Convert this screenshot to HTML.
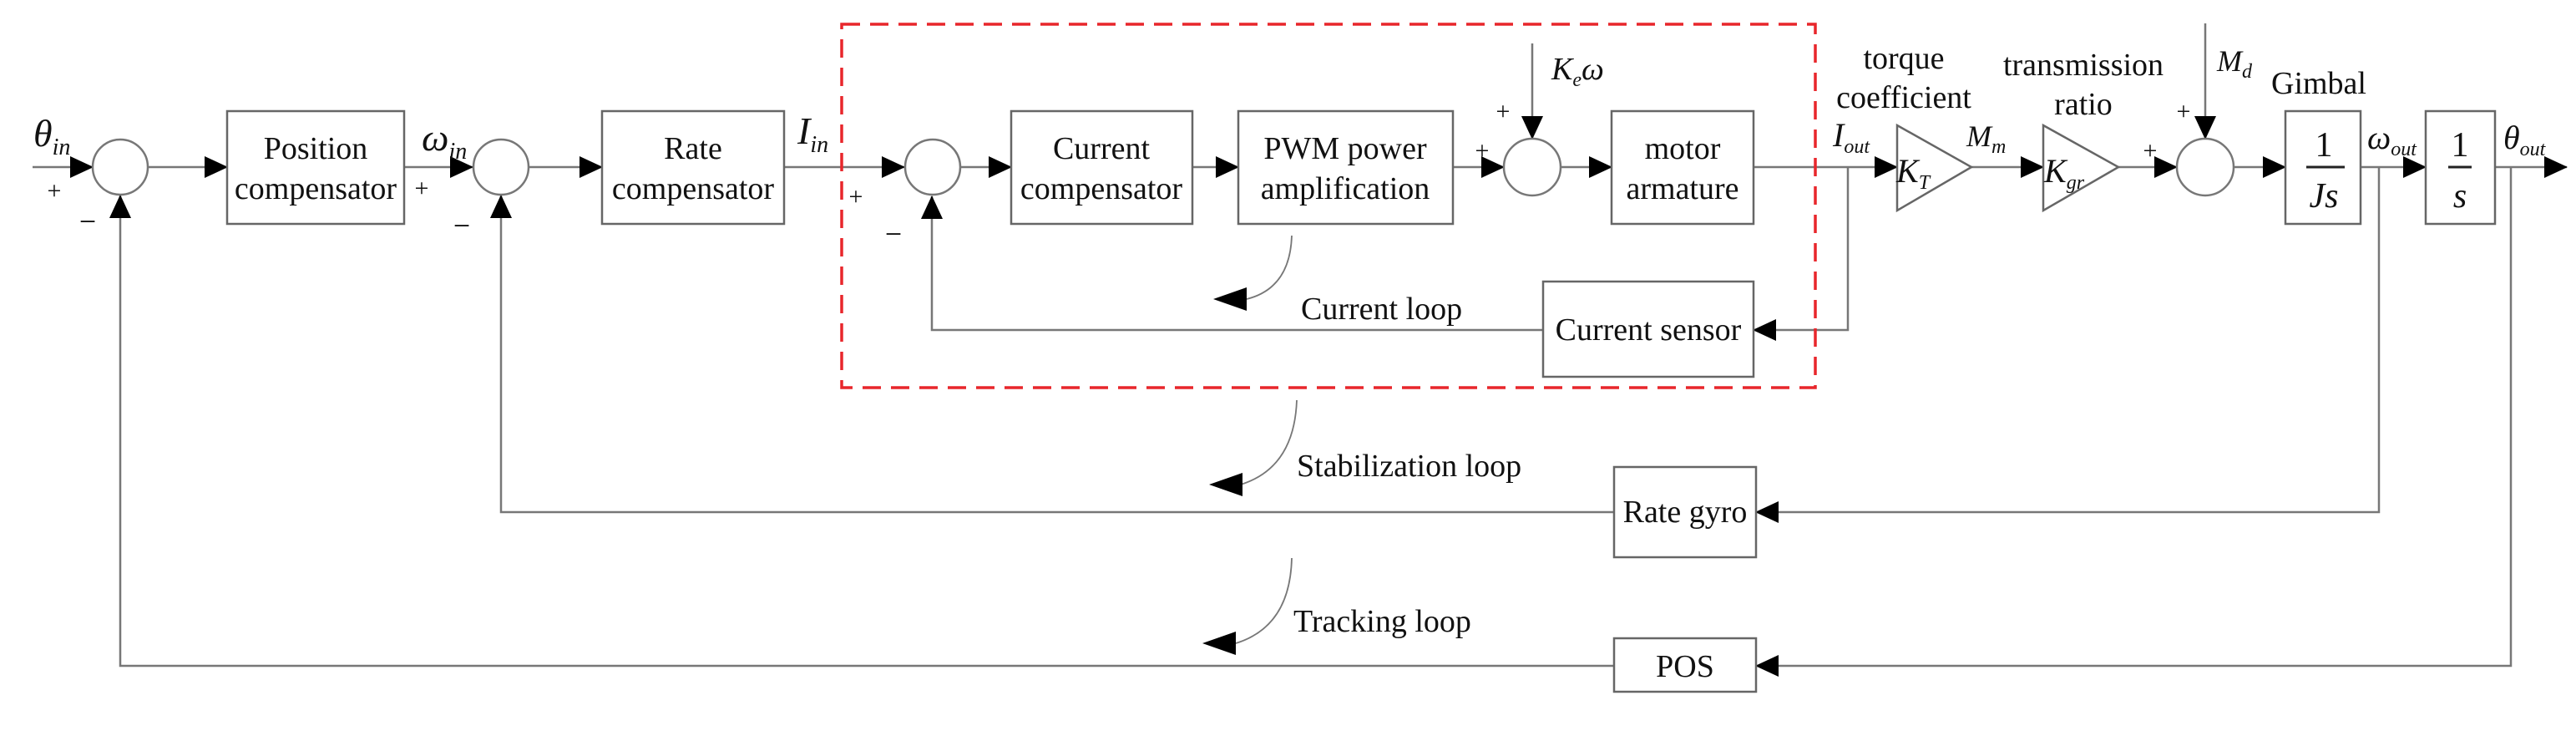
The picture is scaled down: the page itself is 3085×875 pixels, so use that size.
<!DOCTYPE html>
<html><head><meta charset="utf-8"><style>
html,body{margin:0;padding:0;background:#fff;}
svg{display:block;}
text{font-family:"Liberation Serif",serif;fill:#111;}
.b{font-size:38px;}
.m{font-style:italic;}
</style></head><body>
<svg width="3085" height="875" viewBox="0 0 3085 875" xmlns="http://www.w3.org/2000/svg">
<defs>
<marker id="a" markerWidth="28" markerHeight="26" refX="27" refY="13" orient="auto" markerUnits="userSpaceOnUse">
<path d="M0,0 L28,13 L0,26 z" fill="#000"/></marker>
</defs>
<g stroke="#777" stroke-width="2.5" fill="none">
<line x1="39" y1="200" x2="111" y2="200" marker-end="url(#a)"/>
<line x1="177" y1="200" x2="272" y2="200" marker-end="url(#a)"/>
<line x1="484" y1="200" x2="566" y2="200" marker-end="url(#a)"/>
<line x1="633" y1="200" x2="721" y2="200" marker-end="url(#a)"/>
<line x1="939" y1="200" x2="1083" y2="200" marker-end="url(#a)"/>
<line x1="1150" y1="200" x2="1211" y2="200" marker-end="url(#a)"/>
<line x1="1428" y1="200" x2="1483" y2="200" marker-end="url(#a)"/>
<line x1="1740" y1="200" x2="1801" y2="200" marker-end="url(#a)"/>
<line x1="1869" y1="200" x2="1930" y2="200" marker-end="url(#a)"/>
<line x1="2100" y1="200" x2="2272" y2="200" marker-end="url(#a)"/>
<line x1="2361" y1="200" x2="2447" y2="200" marker-end="url(#a)"/>
<line x1="2537" y1="200" x2="2607" y2="200" marker-end="url(#a)"/>
<line x1="2675" y1="200" x2="2737" y2="200" marker-end="url(#a)"/>
<line x1="2827" y1="200" x2="2905" y2="200" marker-end="url(#a)"/>
<line x1="2988" y1="200" x2="3074" y2="200" marker-end="url(#a)"/>
<line x1="1835" y1="52" x2="1835" y2="166" marker-end="url(#a)"/>
<line x1="2641" y1="28" x2="2641" y2="166" marker-end="url(#a)"/>
<polyline points="2213,200 2213,395 2100,395" marker-end="url(#a)"/>
<polyline points="1848,395 1116,395 1116,235" marker-end="url(#a)"/>
<polyline points="2849,200 2849,613 2103,613" marker-end="url(#a)"/>
<polyline points="1933,613 600,613 600,234" marker-end="url(#a)"/>
<polyline points="3007,200 3007,797 2103,797" marker-end="url(#a)"/>
<polyline points="1933,797 144,797 144,234" marker-end="url(#a)"/>
<path d="M1547,282 Q1545,345 1493,358" stroke-width="1.8"/>
<path d="M1553,479 Q1550,560 1486,580" stroke-width="1.8"/>
<path d="M1547,668 Q1545,750 1480,770" stroke-width="1.8"/>
</g>
<g fill="#000">
<path d="M1453,358 L1493,344 L1493,372 z"/>
<path d="M1448,580 L1488,566 L1488,594 z"/>
<path d="M1440,770 L1480,756 L1480,784 z"/>
</g>
<g stroke="#777" stroke-width="2.5" fill="#fff">
<circle cx="144" cy="200" r="33"/>
<circle cx="600" cy="200" r="33"/>
<circle cx="1117" cy="200" r="33"/>
<circle cx="1835" cy="200" r="34"/>
<circle cx="2641" cy="200" r="34"/>
</g>
<g stroke="#666" stroke-width="2.5" fill="#fff">
<rect x="272" y="133" width="212" height="135"/>
<rect x="721" y="133" width="218" height="135"/>
<rect x="1211" y="133" width="217" height="135"/>
<rect x="1483" y="133" width="257" height="135"/>
<rect x="1930" y="133" width="170" height="135"/>
<rect x="1848" y="337" width="252" height="114"/>
<rect x="2737" y="133" width="90" height="135"/>
<rect x="2905" y="133" width="83" height="135"/>
<rect x="1933" y="559" width="170" height="108"/>
<rect x="1933" y="764" width="170" height="64"/>
<polygon points="2272,150 2361,200 2272,252"/>
<polygon points="2447,150 2537,200 2447,252"/>
</g>
<rect x="1008" y="29" width="1166" height="435" fill="none" stroke="#e8262b" stroke-width="3.5" stroke-dasharray="22,12"/>
<line x1="2762" y1="200" x2="2808" y2="200" stroke="#222" stroke-width="3"/>
<line x1="2932" y1="200" x2="2960" y2="200" stroke="#222" stroke-width="3"/>
<g class="b" text-anchor="middle">
<text x="378" y="190">Position</text><text x="378" y="238">compensator</text>
<text x="830" y="190">Rate</text><text x="830" y="238">compensator</text>
<text x="1319" y="190">Current</text><text x="1319" y="238">compensator</text>
<text x="1611" y="190">PWM power</text><text x="1611" y="238">amplification</text>
<text x="2015" y="190">motor</text><text x="2015" y="238">armature</text>
<text x="1974" y="407">Current sensor</text>
<text x="2018" y="625">Rate gyro</text>
<text x="2018" y="810">POS</text>
<text x="2280" y="82">torque</text><text x="2280" y="129">coefficient</text>
<text x="2495" y="90">transmission</text><text x="2495" y="137">ratio</text>
<text x="2777" y="112">Gimbal</text>
<text x="2783" y="187" style="font-size:42px">1</text>
<text x="2783" y="248" class="m" style="font-size:42px">Js</text>
<text x="2946" y="187" style="font-size:42px">1</text>
<text x="2946" y="248" class="m" style="font-size:42px">s</text>
</g>
<g class="b">
<text x="1558" y="382">Current loop</text>
<text x="1553" y="570">Stabilization loop</text>
<text x="1549" y="756">Tracking loop</text>
</g>
<g class="m">
<text x="40" y="175" style="font-size:46px">θ<tspan dy="10" font-size="28">in</tspan></text>
<text x="505" y="180" style="font-size:46px">ω<tspan dy="10" font-size="28">in</tspan></text>
<text x="955" y="172" style="font-size:46px">I<tspan dy="10" font-size="28">in</tspan></text>
<text x="1858" y="95" style="font-size:38px">K<tspan dy="8" font-size="24">e</tspan><tspan dy="-8">ω</tspan></text>
<text x="2195" y="175" style="font-size:40px">I<tspan dy="8" font-size="24">out</tspan></text>
<text x="2271" y="218" style="font-size:40px">K<tspan dy="8" font-size="24">T</tspan></text>
<text x="2355" y="175" style="font-size:36px">M<tspan dy="8" font-size="24">m</tspan></text>
<text x="2448" y="218" style="font-size:40px">K<tspan dy="8" font-size="24">gr</tspan></text>
<text x="2655" y="85" style="font-size:36px">M<tspan dy="8" font-size="24">d</tspan></text>
<text x="2835" y="178" style="font-size:40px">ω<tspan dy="8" font-size="24">out</tspan></text>
<text x="2998" y="178" style="font-size:40px">θ<tspan dy="8" font-size="24">out</tspan></text>
</g>
<g style="font-size:30px" text-anchor="middle">
<text x="65" y="238">+</text>
<text x="505" y="235">+</text>
<text x="1025" y="245">+</text>
<text x="1800" y="143">+</text>
<text x="1775" y="190">+</text>
<text x="2615" y="143">+</text>
<text x="2575" y="190">+</text>
</g>
<g style="font-size:36px" text-anchor="middle">
<text x="105" y="277">−</text>
<text x="553" y="282">−</text>
<text x="1070" y="292">−</text>
</g>
</svg>
</body></html>
